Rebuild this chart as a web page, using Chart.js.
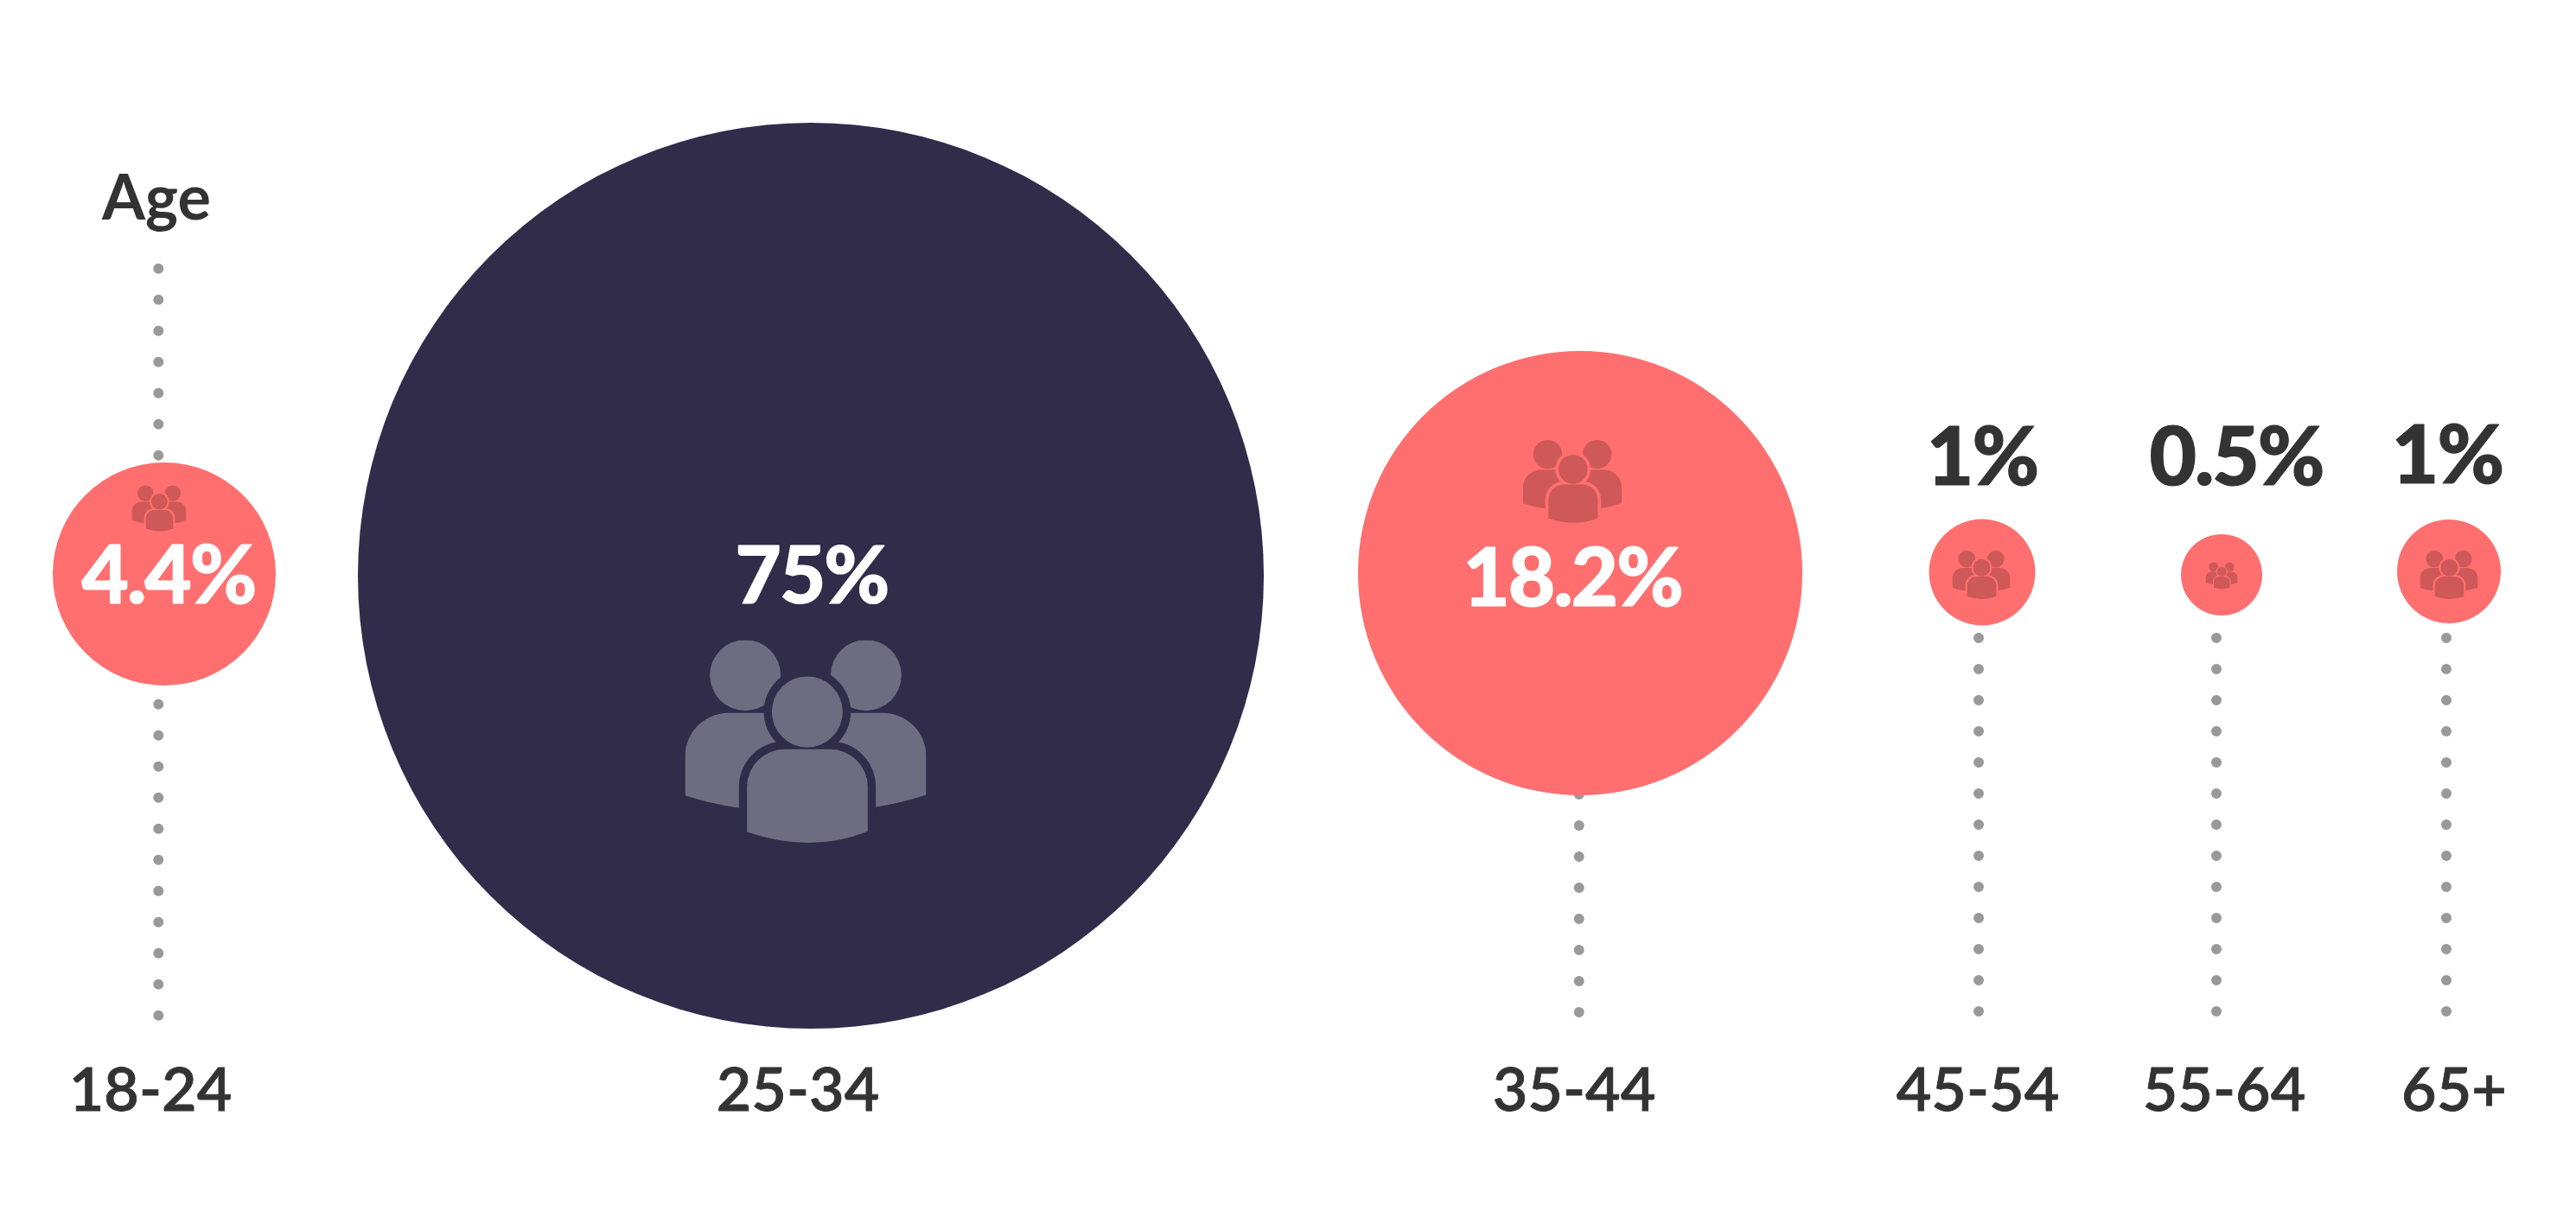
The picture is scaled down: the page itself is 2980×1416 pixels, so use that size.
<!DOCTYPE html>
<html><head><meta charset="utf-8">
<style>html,body{margin:0;padding:0;background:#fff}canvas{display:block}</style>
<script src="https://cdn.jsdelivr.net/npm/chart.js@4"></script>
</head><body><div style="width:2980px;height:1416px"><canvas id="c"></canvas></div>
<script>
// ---- chart values ----
const categories = ['18-24', '25-34', '35-44', '45-54', '55-64', '65+'];
const shares = [4.4, 75, 18.2, 1, 0.5, 1];
const shareLabels = ['4.4%', '75%', '18.2%', '1%', '0.5%', '1%'];
const axisTitle = 'Age';

// ---- placement along the axis, in axis units ----
const bubbleX = [190, 938, 1828, 2293, 2570, 2833];
const bubbleY = [664, 666, 663, 662, 665, 661];
const bubbleR = [129, 524, 257, 61.5, 47, 60];
const tickX = [174, 923, 1821, 2288, 2573, 2839];
const stemX = [183.3, null, 1826.7, 2289, 2564, 2830];
const stemTop = [310.7, null, 919, 738, 738, 738];
const stemBottom = [1177, null, 1172, 1172, 1172, 1172];
const labelX = [195, 939, 1819, 2293, 2587, 2831];
const labelY = [668, 668, 671, 531, 531, 529];
const labelPx = [94, 92, 94, 94, 94, 94];
const iconX = [184, 932, 1819, 2292, 2570, 2833];
const iconY = [588, 858, 557, 665, 666, 665];
const iconW = [63, 279, 114, 67, 37, 67];

const RED = '#ff6f6f', NAVY = '#302c4a';
const bubbleColors = shares.map((_, i) => i === 1 ? NAVY : RED);
const iconColors = shares.map((_, i) => i === 1 ? '#6e6c80' : '#cf5858');
const labelColors = shares.map((_, i) => i < 3 ? '#ffffff' : '#333333');
const FONT = 'Lato, "Open Sans", sans-serif';

// icon outline, in a box 837 wide by 703 tall
function drawPeople(ctx, cx, cy, w, fill, cut) {
  const s = w / 837;
  ctx.save();
  ctx.translate(cx, cy);
  ctx.scale(s, s);
  ctx.translate(-418.5, -351.5);
  const body = (x0, x1, top, sideL, sideR, ctrlX, low, r) => {
    const p = new Path2D();
    p.moveTo(x0, sideL);
    p.lineTo(x0, top + r);
    p.arcTo(x0, top, x0 + r, top, r);
    p.lineTo(x1 - r, top);
    p.arcTo(x1, top, x1, top + r, r);
    p.lineTo(x1, sideR);
    p.quadraticCurveTo(ctrlX, low, x0, sideL);
    p.closePath();
    return p;
  };
  const head = (x, y, r) => { const p = new Path2D(); p.arc(x, y, r, 0, Math.PI * 2); return p; };
  ctx.save();
  ctx.beginPath(); ctx.rect(0, 0, 837, 703); ctx.clip();
  ctx.fillStyle = fill;
  ctx.fill(head(209, 121, 123));
  ctx.fill(head(628, 121, 123));
  ctx.fill(body(0, 500, 252, 538, 590, 220, 610, 150));
  ctx.fill(body(337, 837, 252, 590, 536, 617, 610, 150));
  ctx.restore();
  ctx.fillStyle = cut;
  ctx.fill(head(424, 248, 151));
  ctx.fill(body(187, 662, 350, 640, 640, 424, 760, 158));
  ctx.fillStyle = fill;
  ctx.fill(head(424, 248, 123));
  ctx.fill(body(215, 634, 378, 665, 663, 440, 741, 130));
  ctx.restore();
}

function heavyText(ctx, text, x, y, stroke) {
  ctx.lineJoin = 'round';
  ctx.lineWidth = stroke;
  ctx.strokeStyle = ctx.fillStyle;
  ctx.strokeText(text, x, y);
  ctx.fillText(text, x, y);
}

const overlay = {
  id: 'overlay',
  afterDatasetsDraw(chart) {
    const { ctx, scales: { x, y } } = chart;
    ctx.save();
    ctx.textAlign = 'center';
    ctx.textBaseline = 'middle';
    shares.forEach((_, i) => {
      drawPeople(ctx, x.getPixelForValue(iconX[i]), y.getPixelForValue(iconY[i]), iconW[i], iconColors[i], bubbleColors[i]);
      ctx.font = `900 ${labelPx[i]}px ${FONT}`;
      ctx.letterSpacing = '-2px';
      ctx.fillStyle = labelColors[i];
      heavyText(ctx, shareLabels[i], x.getPixelForValue(labelX[i]), y.getPixelForValue(labelY[i]), 1.2);
    });
    ctx.font = `700 72px ${FONT}`;
    ctx.letterSpacing = '0px';
    ctx.fillStyle = '#333333';
    ctx.fillText(axisTitle, x.getPixelForValue(181), y.getPixelForValue(231));
    ctx.restore();
  }
};

const stems = categories.map((c, i) => stemX[i] === null ? null : ({
  type: 'line',
  label: c + ' stem',
  data: [{ x: stemX[i], y: stemTop[i] }, { x: stemX[i], y: stemBottom[i] }],
  borderColor: '#999999',
  borderWidth: 12,
  borderDash: [0, 36],
  borderCapStyle: 'round',
  pointRadius: 0,
  clip: false,
  order: 2
})).filter(Boolean);

new Chart(document.getElementById('c'), {
  type: 'bubble',
  data: {
    datasets: [{
      label: 'Share by age',
      data: shares.map((v, i) => ({ x: bubbleX[i], y: bubbleY[i], r: bubbleR[i], v })),
      backgroundColor: bubbleColors,
      borderWidth: 0,
      clip: false,
      order: 1
    }, ...stems]
  },
  options: {
    responsive: true, maintainAspectRatio: false, animation: false,
    layout: { padding: 0, autoPadding: false },
    plugins: { legend: { display: false }, tooltip: { enabled: false } },
    scales: {
      x: {
        type: 'linear', min: 0, max: 2980,
        grid: { display: false }, border: { display: false },
        afterBuildTicks: s => { s.ticks = tickX.map(v => ({ value: v })); },
        afterFit: s => { s.height = 216; },
        ticks: {
          autoSkip: false, maxRotation: 0, padding: 12,
          color: '#333333', textStrokeColor: '#333333', textStrokeWidth: 0.8,
          font: { family: FONT, size: 70, weight: '600' },
          callback: (v) => categories[tickX.indexOf(v)]
        }
      },
      y: { type: 'linear', display: false, reverse: true, min: 0, max: 1200 }
    }
  },
  plugins: [overlay]
});
</script></body></html>
